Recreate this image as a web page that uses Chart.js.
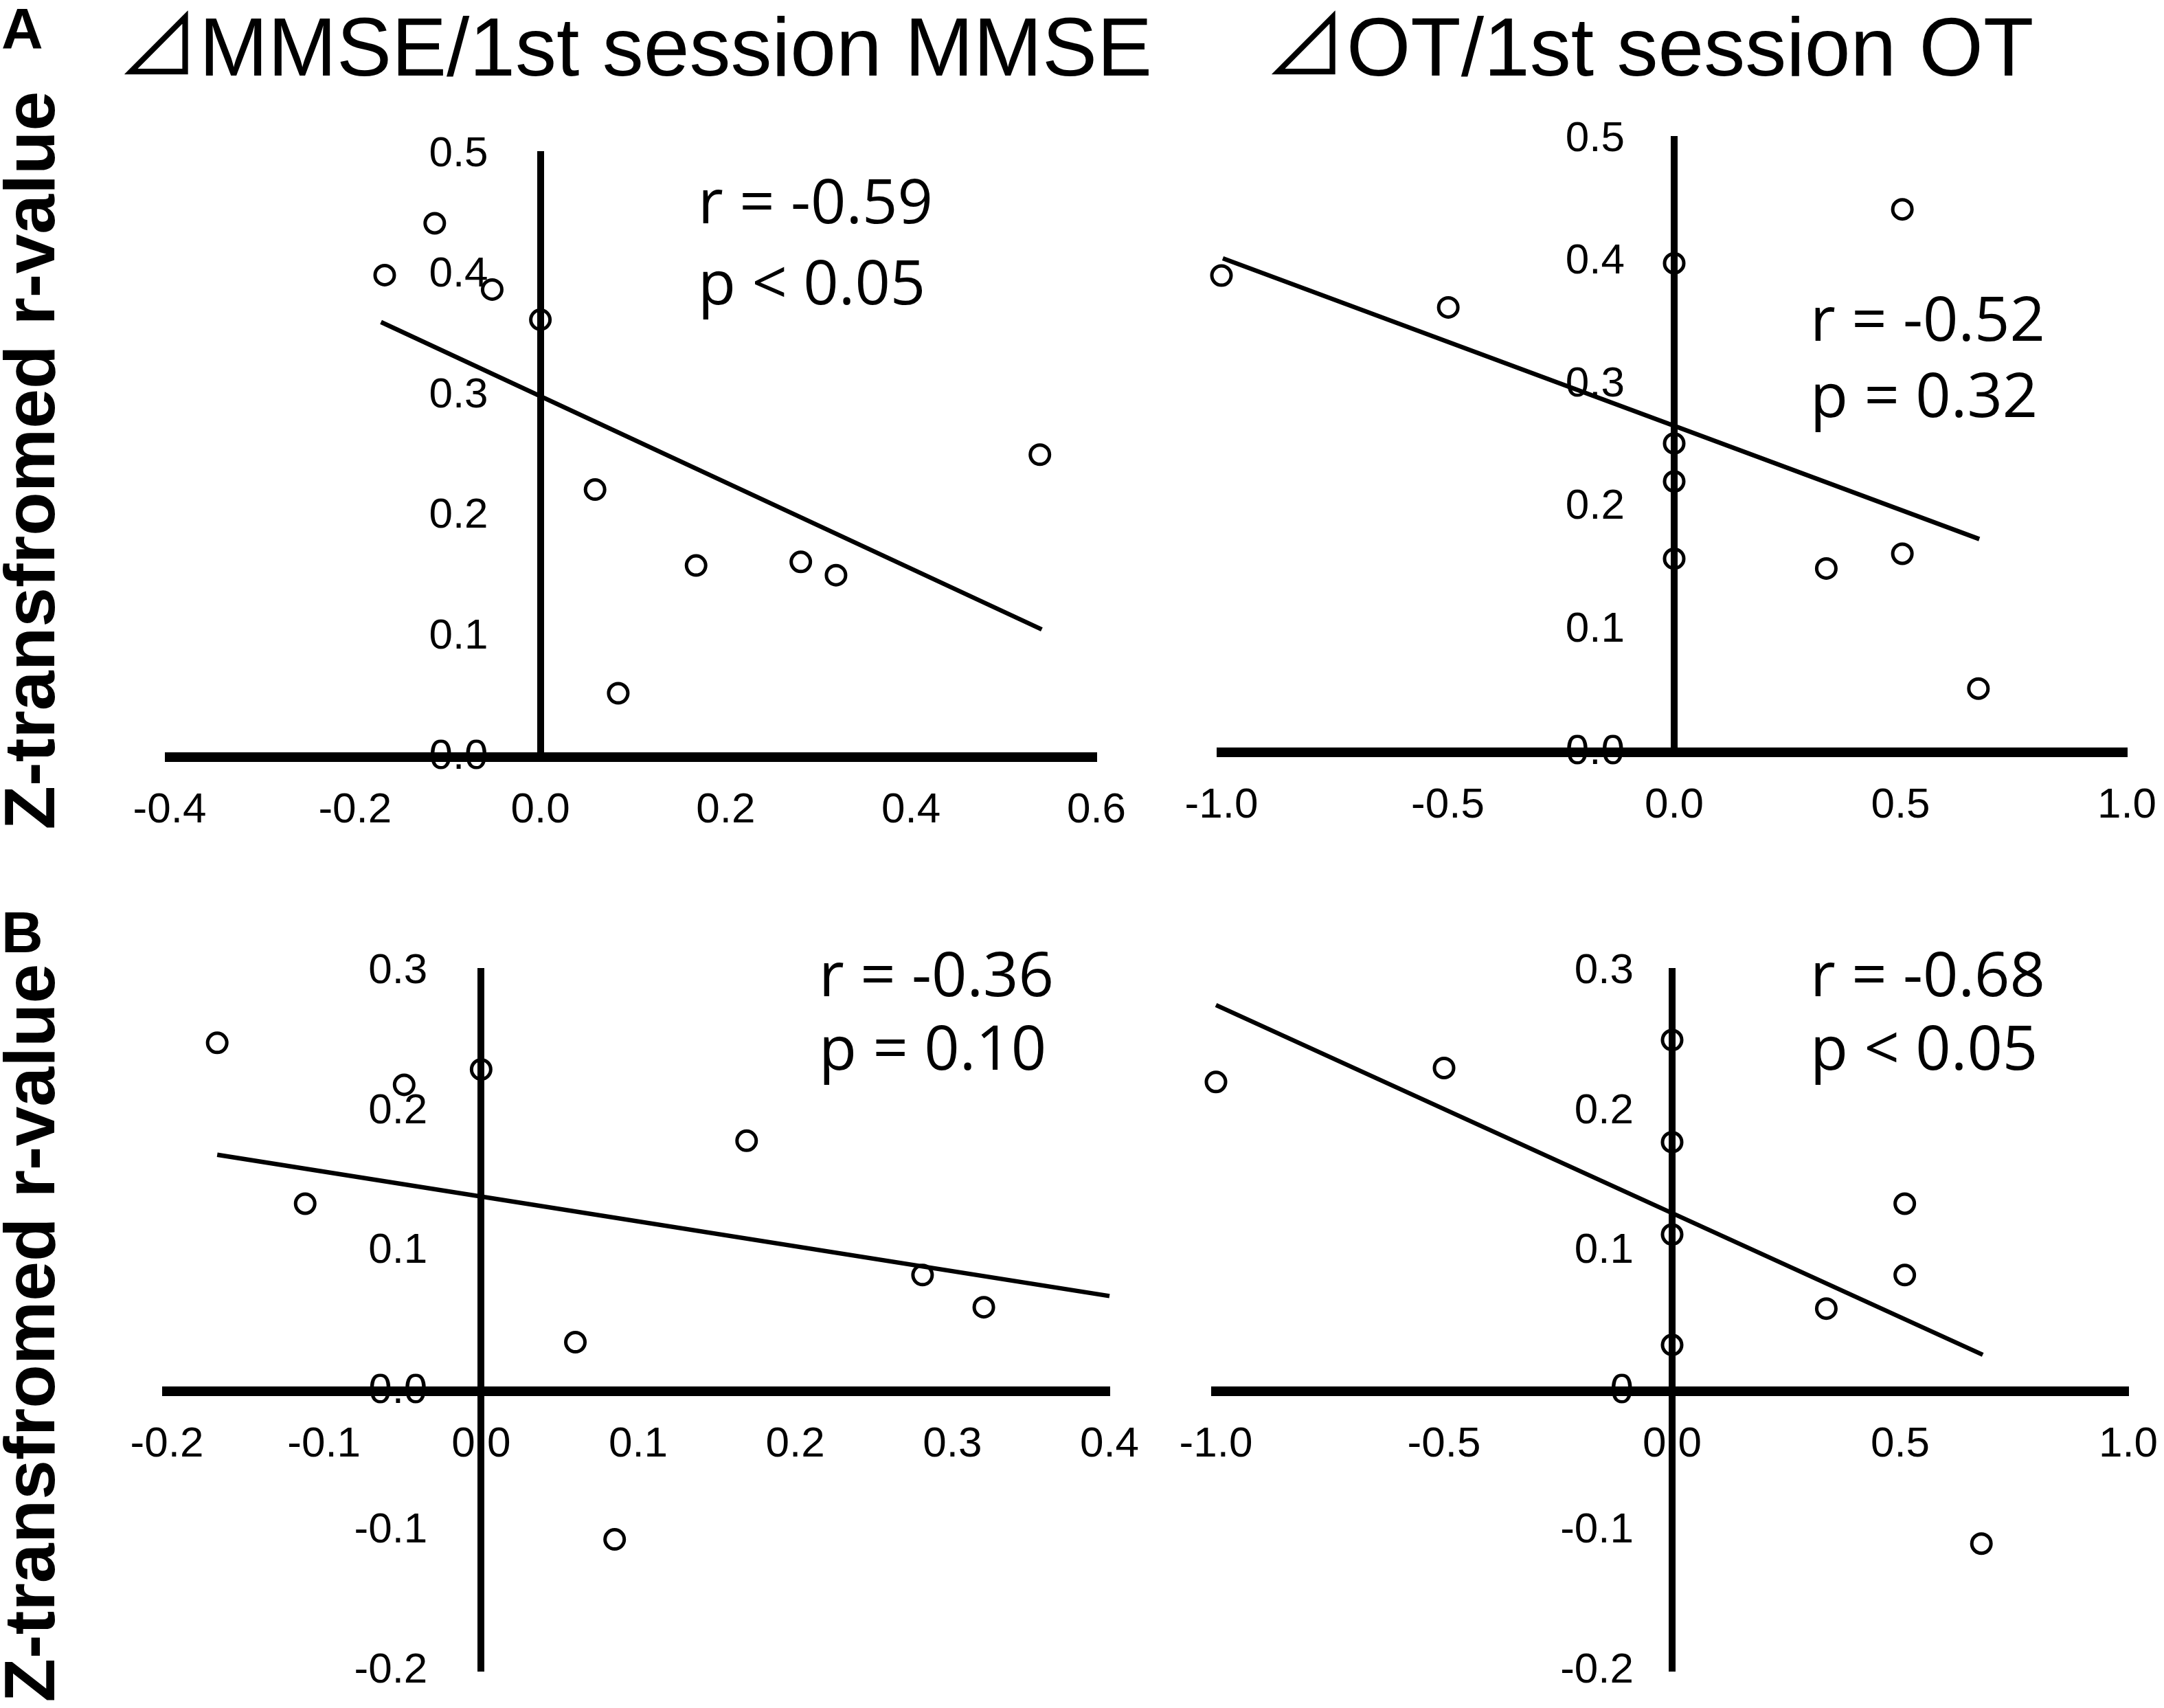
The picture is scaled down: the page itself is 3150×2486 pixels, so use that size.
<!DOCTYPE html>
<html>
<head>
<meta charset="utf-8">
<script src="https://cdn.jsdelivr.net/npm/chart.js@4.4.1/dist/chart.umd.min.js"></script>
<style>
body { margin: 0; background: #fff; width: 3150px; height: 2486px; position: relative; overflow: hidden; font-family: "Liberation Sans", Arial, sans-serif; }
canvas { position: absolute; }
.t { position: absolute; white-space: nowrap; color: #000; line-height: 1; }
.lab { font-weight: bold; font-size: 84px; }
.title { font-size: 120px; }
.tri { font-family: "Noto Sans CJK JP", "DejaVu Sans", sans-serif; }
.ytitle { font-weight: bold; font-size: 104px; transform: translate(-50%, -50%) rotate(-90deg); }
.stat { font-family: "Open Sans", sans-serif; font-size: 90px; line-height: 116px; }
</style>
</head>
<body>

<div class="t lab" style="left:2px; top:0px;">A</div>
<div class="t lab" style="left:2px; top:1315px;">B</div>
<div class="t title" style="left:170px; top:-2px;"><span class="tri">⊿</span>MMSE/1st session MMSE</div>
<div class="t title" style="left:1840px; top:-2px;"><span class="tri">⊿</span>OT/1st session OT</div>
<div class="t ytitle" style="left:43px; top:670px;">Z-transfromed r-value</div>
<div class="t ytitle" style="left:43px; top:1940px;">Z-transfromed r-value</div>

<div class="t stat" style="left:1016px; top:232px;">r = -0.59</div>
<div class="t stat" style="left:1016px; top:350px;">p &lt; 0.05</div>
<div class="t stat" style="left:2635px; top:403px;">r = -0.52</div>
<div class="t stat" style="left:2635px; top:514px;">p = 0.32</div>
<div class="t stat" style="left:1192px; top:1357px;">r = -0.36</div>
<div class="t stat" style="left:1192px; top:1464px;">p = 0.10</div>
<div class="t stat" style="left:2635px; top:1357px;">r = -0.68</div>
<div class="t stat" style="left:2635px; top:1464px;">p &lt; 0.05</div>

<canvas id="aLeft"></canvas>
<canvas id="aRight"></canvas>
<canvas id="bLeft"></canvas>
<canvas id="bRight"></canvas>

<script>
// A: delta MMSE
var mmseA_x = [-0.168, -0.114, -0.052, 0.0, 0.059, 0.084, 0.168, 0.281, 0.319, 0.539];
var mmseA_y = [0.400, 0.443, 0.388, 0.363, 0.222, 0.053, 0.159, 0.162, 0.151, 0.251];
var mmseA_fitX = [-0.172, 0.541];
var mmseA_fitY = [0.361, 0.106];

// A: delta OT
var otA_x = [-1.0, -0.499, 0.0, 0.0, 0.0, 0.0, 0.336, 0.504, 0.504, 0.672];
var otA_y = [0.389, 0.363, 0.399, 0.252, 0.221, 0.158, 0.150, 0.162, 0.443, 0.052];
var otA_fitX = [-0.997, 0.674];
var otA_fitY = [0.403, 0.174];

// B: delta MMSE
var mmseB_x = [-0.168, -0.112, -0.049, 0.0, 0.060, 0.085, 0.169, 0.281, 0.320];
var mmseB_y = [0.249, 0.134, 0.219, 0.230, 0.035, -0.106, 0.179, 0.083, 0.060];
var mmseB_fitX = [-0.168, 0.400];
var mmseB_fitY = [0.169, 0.068];

// B: delta OT
var otB_x = [-1.0, -0.5, 0.0, 0.0, 0.0, 0.0, 0.338, 0.510, 0.510, 0.678];
var otB_y = [0.221, 0.231, 0.251, 0.178, 0.112, 0.033, 0.059, 0.134, 0.083, -0.109];
var otB_fitX = [-1.0, 0.681];
var otB_fitY = [0.276, 0.026];

// ticks
var mmseAxTicks = [-0.4, -0.2, 0, 0.2, 0.4, 0.6];
var mmseAxLabels = ['-0.4', '-0.2', '0.0', '0.2', '0.4', '0.6'];
var mmseBxTicks = [-0.2, -0.1, 0, 0.1, 0.2, 0.3, 0.4];
var mmseBxLabels = ['-0.2', '-0.1', '0.0', '0.1', '0.2', '0.3', '0.4'];
var otxTicks = [-1, -0.5, 0, 0.5, 1];
var otxLabels = ['-1.0', '-0.5', '0.0', '0.5', '1.0'];
var yATicks = [0, 0.1, 0.2, 0.3, 0.4, 0.5];
var yALabels = ['0.0', '0.1', '0.2', '0.3', '0.4', '0.5'];
var yBTicks = [-0.2, -0.1, 0, 0.1, 0.2, 0.3];
var yBLabels = ['-0.2', '-0.1', '0.0', '0.1', '0.2', '0.3'];
var yBRightLabels = ['-0.2', '-0.1', '0', '0.1', '0.2', '0.3'];

function toPoints(xs, ys) {
    return xs.map(function (x, i) { return { x: x, y: ys[i] }; });
}

// a y axis placed at x = 0 ignores ticks.padding, so push its labels left here
function yLabelGap(gap) {
    return {
        id: 'yLabelGap',
        beforeDraw: function (chart) {
            chart.scales.y.getLabelItems().forEach(function (it) {
                if (!it.moved) {
                    it.options.translation[0] -= gap;
                    it.moved = true;
                }
            });
        }
    };
}

// box = canvas [left, top, width, height], area = wanted plot area [l, t, r, b]
function panel(id, box, area, gap, xs, ys, fitX, fitY, xTicks, xLabels, yTicks, yLabels) {
    var cv = document.getElementById(id);
    cv.width = box[2];
    cv.height = box[3];
    cv.style.left = box[0] + 'px';
    cv.style.top = box[1] + 'px';
    cv.style.width = box[2] + 'px';
    cv.style.height = box[3] + 'px';

    var tickFont = { family: 'Liberation Sans', size: 62 };

    new Chart(cv, {
        type: 'scatter',
        data: {
            datasets: [{
                data: toPoints(xs, ys),
                pointRadius: 14,
                borderWidth: 5,
                borderColor: '#000',
                backgroundColor: 'rgba(0,0,0,0)',
                clip: false
            }, {
                data: toPoints(fitX, fitY),
                showLine: true,
                pointRadius: 0,
                borderWidth: 6.5,
                borderColor: '#000',
                clip: false
            }]
        },
        plugins: [yLabelGap(gap)],
        options: {
            responsive: false,
            animation: false,
            devicePixelRatio: 1,
            layout: {
                padding: {
                    left: area[0] - box[0],
                    top: area[1] - box[1],
                    right: box[0] + box[2] - area[2],
                    bottom: box[1] + box[3] - area[3]
                }
            },
            plugins: { legend: { display: false }, tooltip: { enabled: false } },
            scales: {
                x: {
                    type: 'linear',
                    position: { y: 0 },
                    min: xTicks[0],
                    max: xTicks[xTicks.length - 1],
                    grid: { display: false },
                    border: { display: true, width: 14, color: '#000' },
                    afterBuildTicks: function (s) { s.ticks = xTicks.map(function (v) { return { value: v }; }); },
                    afterFit: function (s) { s.height = 0; },
                    ticks: {
                        callback: function (v, i) { return xLabels[i]; },
                        font: tickFont, color: '#000', padding: 33,
                        maxRotation: 0, autoSkip: false
                    }
                },
                y: {
                    type: 'linear',
                    position: { x: 0 },
                    min: yTicks[0],
                    max: yTicks[yTicks.length - 1],
                    grid: { display: false },
                    border: { display: true, width: 10, color: '#000' },
                    afterBuildTicks: function (s) { s.ticks = yTicks.map(function (v) { return { value: v }; }); },
                    afterFit: function (s) { s.width = 0; },
                    ticks: {
                        callback: function (v, i) { return yLabels[i]; },
                        font: tickFont, color: '#000', padding: 0,
                        autoSkip: false
                    }
                }
            }
        }
    });
}

panel('aLeft', [140, 110, 1560, 1170], [247, 225, 1596, 1102], 76,
    mmseA_x, mmseA_y, mmseA_fitX, mmseA_fitY, mmseAxTicks, mmseAxLabels, yATicks, yALabels);
panel('aRight', [1670, 100, 1530, 1180], [1778, 203, 3096, 1095], 72,
    otA_x, otA_y, otA_fitX, otA_fitY, otxTicks, otxLabels, yATicks, yALabels);
panel('bLeft', [135, 1300, 1590, 1186], [243, 1414, 1615, 2432], 78,
    mmseB_x, mmseB_y, mmseB_fitX, mmseB_fitY, mmseBxTicks, mmseBxLabels, yBTicks, yBLabels);
panel('bRight', [1660, 1300, 1540, 1186], [1770, 1414, 3098, 2432], 56,
    otB_x, otB_y, otB_fitX, otB_fitY, otxTicks, otxLabels, yBTicks, yBRightLabels);
</script>
</body>
</html>
